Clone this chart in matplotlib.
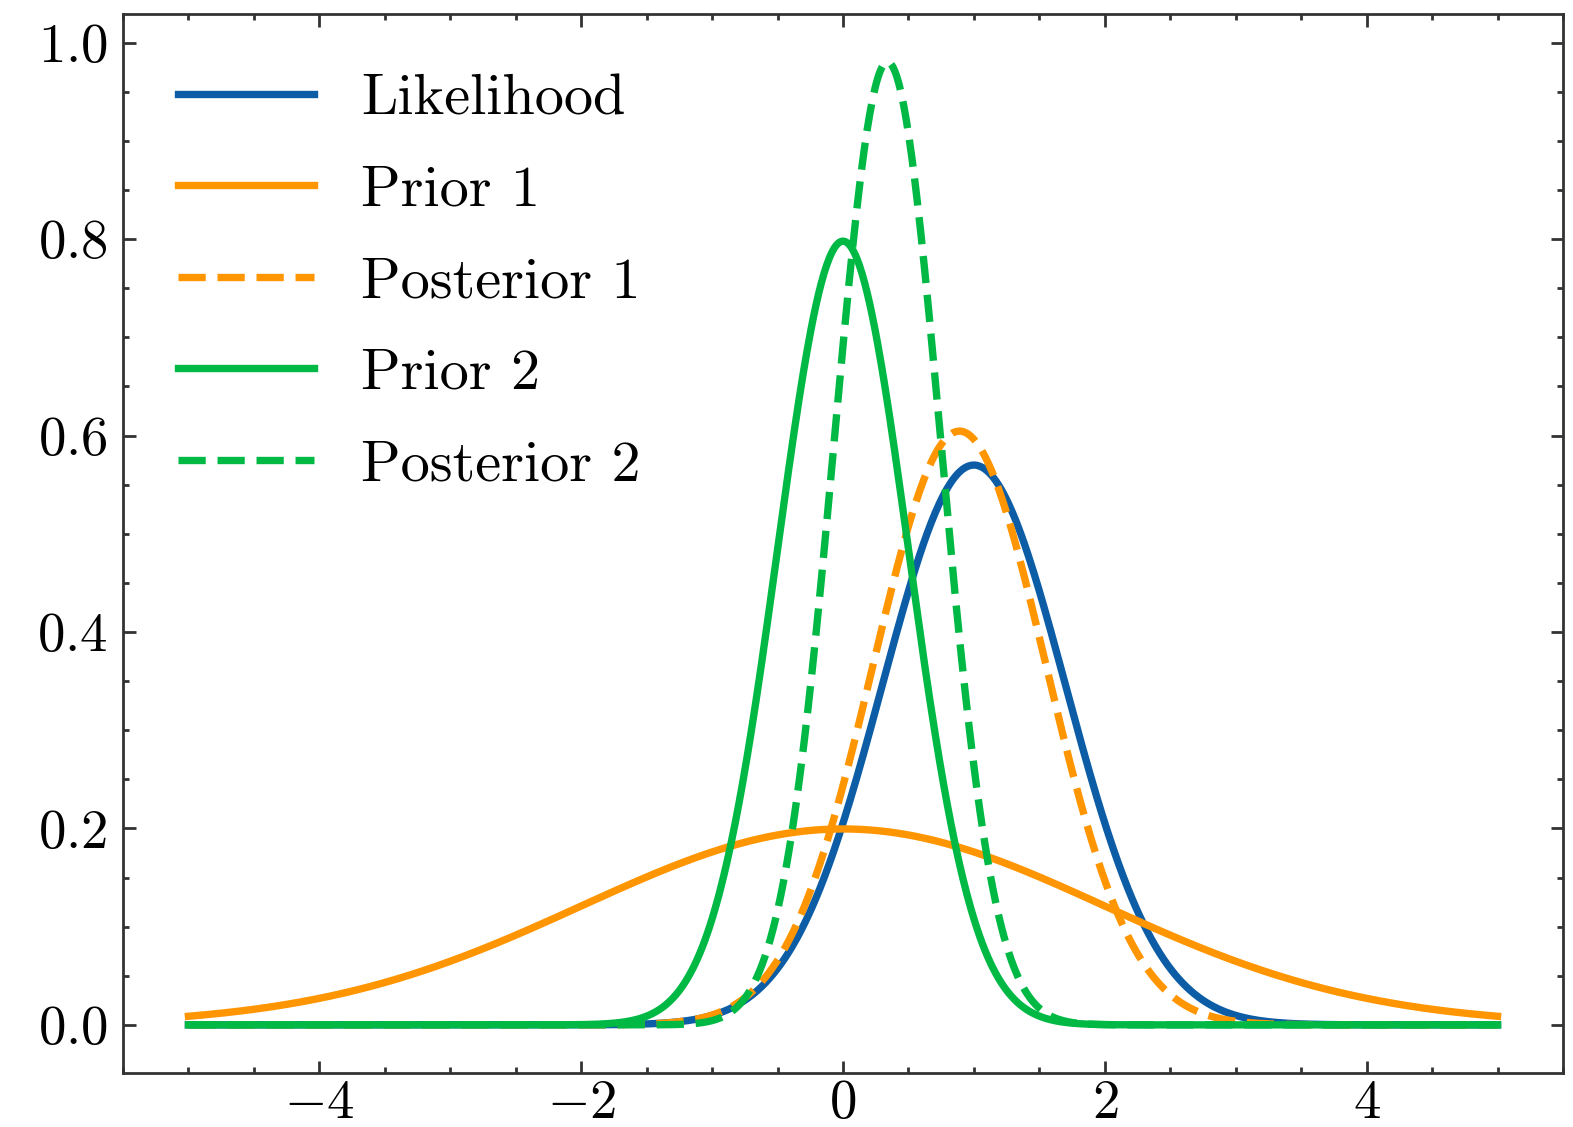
import numpy as np
import matplotlib
matplotlib.use('Agg')
import matplotlib.pyplot as plt
from matplotlib.ticker import MultipleLocator

# curves (gaussian densities: mean, std)
labels = ['Likelihood', 'Prior 1', 'Posterior 1', 'Prior 2', 'Posterior 2']
means = [1.0, 0.0, 0.89, 0.0, 0.34]
stds = [0.70, 2.0, 0.66, 0.50, 0.407]
colors = ['#0C5DA5', '#FF9500', '#FF9500', '#00B945', '#00B945']
styles = ['-', '-', '--', '-', '--']
x_range = [-5, 5]

plt.rcParams['font.family'] = 'serif'
plt.rcParams['font.serif'] = ['cmr10']
plt.rcParams['mathtext.fontset'] = 'cm'
plt.rcParams['axes.formatter.use_mathtext'] = True
plt.rcParams['axes.unicode_minus'] = True


def gauss(x, mu, sd):
    return np.exp(-0.5 * ((x - mu) / sd) ** 2) / (sd * np.sqrt(2 * np.pi))


fig = plt.figure(figsize=(15.73, 11.27), dpi=100)
ax = fig.add_axes([123 / 1573, 1 - 1073 / 1127, 1440 / 1573, 1059 / 1127])

x = np.linspace(x_range[0], x_range[1], 1000)
for lab, mu, sd, c, ls in zip(labels, means, stds, colors, styles):
    ax.plot(x, gauss(x, mu, sd), color=c, ls=ls, lw=5.3, label=lab)

ax.xaxis.set_major_locator(MultipleLocator(2))
ax.xaxis.set_minor_locator(MultipleLocator(0.5))
ax.yaxis.set_major_locator(MultipleLocator(0.2))
ax.yaxis.set_minor_locator(MultipleLocator(0.05))
ax.tick_params(which='both', direction='in', top=True, right=True,
               width=2.0, color='#333333', labelsize=39.5)
ax.tick_params(which='major', length=9)
ax.tick_params(which='minor', length=4.5)
ax.tick_params(axis='x', pad=5)
ax.tick_params(axis='y', pad=11)
for s in ax.spines.values():
    s.set_linewidth(2.0)
    s.set_color('#333333')

ax.legend(loc='upper left', bbox_to_anchor=(0.002, 1 - 7 / 1059),
          frameon=False, fontsize=42, handlelength=2.33, labelspacing=0.68)

fig.savefig('out.png', dpi=100)
